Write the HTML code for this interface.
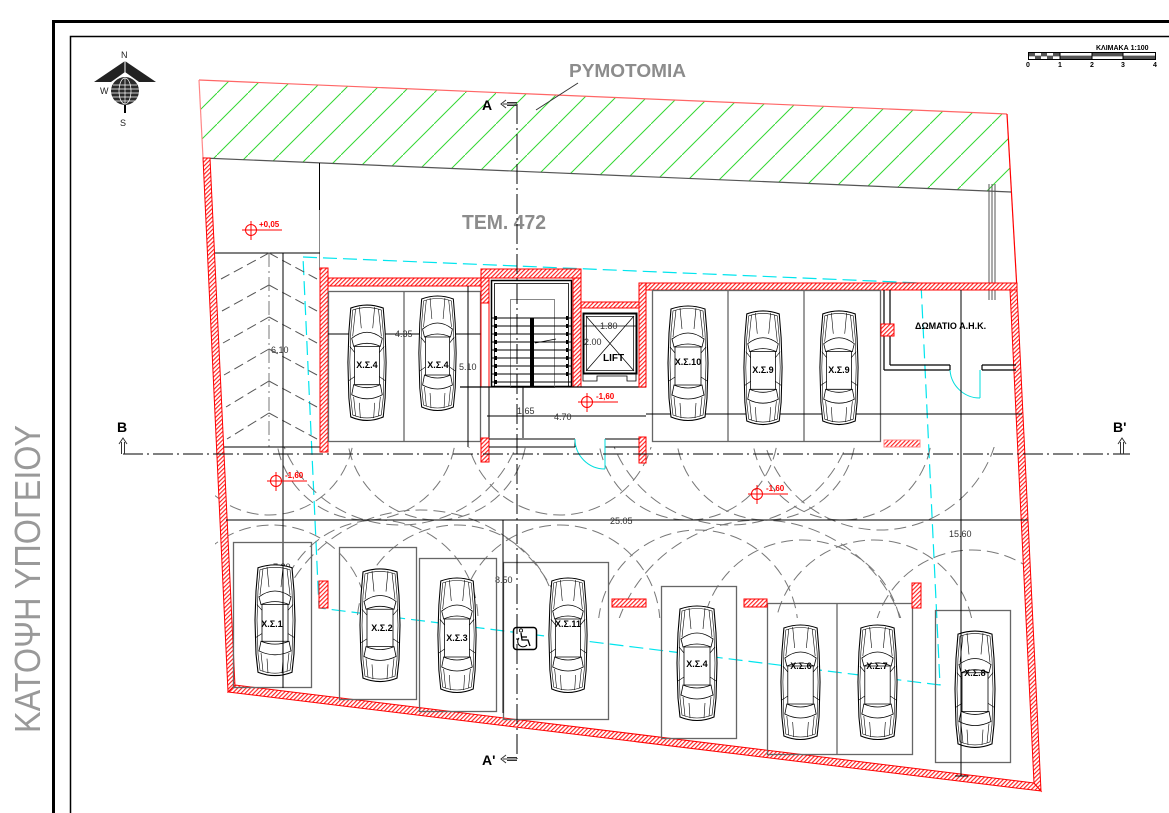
<!DOCTYPE html>
<html><head><meta charset="utf-8"><style>
html,body{margin:0;padding:0;background:#fff;overflow:hidden}
svg{display:block}
</style></head><body>
<svg width="1169" height="813" viewBox="0 0 1169 813" xmlns="http://www.w3.org/2000/svg" font-family="'Liberation Sans', Arial, sans-serif">
<defs>
<pattern id="h" patternUnits="userSpaceOnUse" width="3" height="3" patternTransform="rotate(45)"><rect width="3" height="3" fill="#fff"/><line x1="0.5" y1="0" x2="0.5" y2="3" stroke="#f22" stroke-width="1.3"/></pattern>
<pattern id="g" patternUnits="userSpaceOnUse" width="31" height="31"><line x1="-1" y1="32" x2="32" y2="-1" stroke="#33d633" stroke-width="1"/></pattern>
<symbol id="car" viewBox="0 0 44 120" preserveAspectRatio="none">
<path d="M5,6 Q22,0 39,6 L41,30 L42,60 L41,95 L39,114 Q22,121 5,114 L3,95 L2,60 L3,30 Z" fill="#fff" stroke="#000" stroke-width="1.1"/>
<path d="M7,8 Q22,3 37,8 L39,30 L40,60 L39,95 L37,112 Q22,118 7,112 L5,95 L4,60 L5,30 Z" fill="none" stroke="#000" stroke-width=".6"/>
<path d="M6,36 Q22,24 38,36 L36,44 Q22,38 8,44 Z" fill="none" stroke="#000" stroke-width=".8"/>
<path d="M9,44 L35,44 L35,82 L9,82 Z" fill="none" stroke="#000" stroke-width=".8"/>
<path d="M8,82 Q22,88 36,82 L38,92 Q22,100 6,92 Z" fill="none" stroke="#000" stroke-width=".8"/>
<path d="M10,7 L7,34 M34,7 L37,34 M14,5 L16,26 M30,5 L28,26 M8,94 L10,113 M36,94 L34,113 M14,100 L15,115 M30,100 L29,115 M4,44 L9,50 M40,44 L35,50 M3,78 L9,74 M41,78 L35,74" stroke="#000" stroke-width=".6" fill="none"/>
</symbol>
<clipPath id="ctop"><rect x="215" y="447" width="810" height="125"/></clipPath>
<clipPath id="cbot"><rect x="215" y="458" width="810" height="160"/></clipPath>
</defs>

<!-- vertical title -->
<text transform="translate(40,733) rotate(-90)" font-size="36" fill="#999" textLength="308" lengthAdjust="spacingAndGlyphs">ΚΑΤΟΨΗ ΥΠΟΓΕΙΟΥ</text>

<!-- frames -->
<path d="M53.5,813 L53.5,21.5 L1169,21.5" fill="none" stroke="#000" stroke-width="3"/>
<path d="M70.5,813 L70.5,36.5 L1169,36.5" fill="none" stroke="#000" stroke-width="1.5"/>

<!-- compass -->
<text x="121" y="58" font-size="9" fill="#222">N</text>
<polygon points="94,82 125,61 156,82 139,82 125,72 111,82" fill="#222"/>
<line x1="125" y1="61" x2="125" y2="78" stroke="#fff" stroke-width="1"/>
<circle cx="125" cy="91" r="14" fill="#2a2a2a"/>
<g stroke="#fff" stroke-width=".7" fill="none">
<path d="M113,85 L137,85 M111,89 L139,89 M111,93 L139,93 M112,97 L138,97 M115,101 L135,101"/>
<ellipse cx="125" cy="91" rx="6" ry="13"/><line x1="125" y1="78" x2="125" y2="104"/>
</g>
<text x="100" y="94" font-size="9" fill="#222">W</text>
<line x1="125" y1="105" x2="125" y2="113" stroke="#000" stroke-width="2"/>
<text x="120" y="126" font-size="9" fill="#222">S</text>

<!-- scale bar -->
<text x="1096" y="50" font-size="7" font-weight="bold" fill="#000">ΚΛΙΜΑΚΑ 1:100</text>
<rect x="1028.5" y="52.5" width="127" height="7" fill="#fff" stroke="#000" stroke-width="1"/>
<line x1="1028" y1="56" x2="1156" y2="56" stroke="#000" stroke-width=".6"/>
<g fill="#555">
<rect x="1029" y="53" width="6" height="3"/><rect x="1041" y="53" width="6" height="3"/><rect x="1053" y="53" width="7" height="3"/>
<rect x="1035" y="56" width="6" height="3"/><rect x="1047" y="56" width="6" height="3"/><rect x="1060" y="56" width="32" height="3"/>
<rect x="1092" y="53" width="31" height="3"/><rect x="1123" y="56" width="32" height="3"/>
</g>
<g stroke="#000" stroke-width="1"><line x1="1060" y1="52" x2="1060" y2="60"/><line x1="1092" y1="52" x2="1092" y2="60"/><line x1="1123" y1="52" x2="1123" y2="60"/></g>
<g font-size="7" font-weight="bold"><text x="1026" y="67">0</text><text x="1058" y="67">1</text><text x="1090" y="67">2</text><text x="1121" y="67">3</text><text x="1153" y="67">4</text></g>

<!-- street band -->
<polygon points="199,80 1007,114 1011,192 203,158" fill="url(#g)"/>
<line x1="199" y1="80" x2="1007" y2="114" stroke="#f66" stroke-width="1.2"/>
<line x1="199" y1="80" x2="203" y2="158" stroke="#f88" stroke-width="1.2"/>
<line x1="1007" y1="114" x2="1017" y2="290" stroke="#f00" stroke-width="1.2"/>
<line x1="203" y1="158" x2="1011" y2="192" stroke="#555" stroke-width="1.2"/>
<text x="569" y="77" font-size="18" font-weight="bold" fill="#8c8c8c" textLength="117" lengthAdjust="spacingAndGlyphs">ΡΥΜΟΤΟΜΙΑ</text>
<line x1="578" y1="83" x2="536" y2="110" stroke="#333" stroke-width="1"/>
<text x="462" y="229" font-size="20" font-weight="bold" fill="#8c8c8c" textLength="84" lengthAdjust="spacingAndGlyphs">ΤΕΜ. 472</text>

<!-- downpipe lines -->
<g stroke="#555" stroke-width="1"><line x1="989" y1="184" x2="989" y2="300"/><line x1="992" y1="184" x2="992" y2="300"/><line x1="995" y1="184" x2="995" y2="300"/></g>

<!-- interior top lines -->
<line x1="319.5" y1="163" x2="319.5" y2="210" stroke="#000" stroke-width="1"/>
<line x1="319.5" y1="210" x2="319.5" y2="270" stroke="#888" stroke-width="1"/>
<line x1="211" y1="253" x2="320" y2="253" stroke="#000" stroke-width="1"/>

<!-- cyan dashed -->
<polyline points="303,257 921,283 940,685 319,608 303,257" fill="none" stroke="#00e5ee" stroke-width="1.2" stroke-dasharray="14 6"/>

<!-- turning arcs -->
<g fill="none" stroke="#777" stroke-width="1" stroke-dasharray="12 6" clip-path="url(#ctop)">
<circle cx="269" cy="430" r="85"/><circle cx="366" cy="430" r="90"/><circle cx="437" cy="430" r="90"/>
<circle cx="688" cy="430" r="90"/><circle cx="766" cy="430" r="90"/><circle cx="842" cy="430" r="90"/>
<circle cx="560" cy="420" r="95"/>
<circle cx="400" cy="400" r="125"/><circle cx="730" cy="400" r="125"/><circle cx="880" cy="410" r="120"/>
</g>
<g fill="none" stroke="#777" stroke-width="1" stroke-dasharray="12 6" clip-path="url(#cbot)">
<circle cx="272" cy="620" r="95"/><circle cx="378" cy="620" r="100"/><circle cx="457" cy="625" r="100"/>
<circle cx="560" cy="625" r="100"/><circle cx="698" cy="630" r="100"/><circle cx="802" cy="640" r="100"/>
<circle cx="874" cy="640" r="100"/><circle cx="972" cy="650" r="100"/>
<circle cx="420" cy="660" r="150"/><circle cx="760" cy="670" r="150"/>
</g>

<!-- ramp chevrons -->
<g stroke="#555" stroke-width="1" fill="none" stroke-dasharray="10 5">
<path d="M269,253 L221,279 M269,253 L317,279 M269,285 L222,311 M269,285 L317,311 M269,317 L223,343 M269,317 L317,343 M269,349 L224,375 M269,349 L317,375 M269,381 L226,407 M269,381 L317,407 M269,413 L227,439 M269,413 L317,439"/>
</g>
<line x1="269" y1="253" x2="269" y2="447" stroke="#777" stroke-width="1" stroke-dasharray="14 4 2 4"/>
<line x1="222" y1="447" x2="328" y2="447" stroke="#000" stroke-width="1"/>
<line x1="283" y1="253" x2="283" y2="688" stroke="#000" stroke-width="1"/>
<text x="271" y="353" font-size="9" fill="#333">6.10</text>

<!-- lot walls -->
<polygon points="203,158 210,158 235,686 228,692" fill="url(#h)" stroke="#f00" stroke-width="1"/>
<polygon points="228,692 235,685 1034,783 1041,791" fill="url(#h)" stroke="#f00" stroke-width="1"/>
<polygon points="1010,290 1017,290 1041,791 1034,783" fill="url(#h)" stroke="#f00" stroke-width="1"/>

<!-- left garage block -->
<rect x="328" y="278" width="153" height="8" fill="url(#h)" stroke="#f00" stroke-width="1"/>
<rect x="320" y="268" width="8" height="184" fill="url(#h)" stroke="#f00" stroke-width="1"/>
<rect x="328.5" y="291.5" width="152" height="150" fill="none" stroke="#666" stroke-width="1.3"/>
<line x1="404" y1="291" x2="404" y2="442" stroke="#666" stroke-width="1.3"/>
<line x1="328" y1="334" x2="481" y2="334" stroke="#000" stroke-width="1"/>
<text x="395" y="337" font-size="9" fill="#333">4.35</text>
<line x1="468" y1="286" x2="468" y2="447" stroke="#000" stroke-width="1"/>
<text x="459" y="370" font-size="9" fill="#333">5.10</text>

<!-- stair -->
<rect x="481" y="269" width="100" height="9" fill="url(#h)" stroke="#f00" stroke-width="1"/>
<rect x="481" y="278" width="8" height="25" fill="url(#h)" stroke="#f00" stroke-width="1"/>
<rect x="481" y="303" width="8" height="84" fill="#fff" stroke="#f00" stroke-width="1"/>
<rect x="573" y="278" width="8" height="109" fill="url(#h)" stroke="#f00" stroke-width="1"/>
<rect x="491.5" y="280.5" width="80" height="106" fill="none" stroke="#000" stroke-width="1.5"/>
<rect x="494.5" y="283.5" width="74" height="103" fill="none" stroke="#000" stroke-width=".8"/>
<rect x="510.5" y="299.5" width="44" height="88" fill="none" stroke="#888" stroke-width="1"/>
<g stroke="#000" stroke-width="1">
<line x1="492" y1="318" x2="571" y2="318"/><line x1="492" y1="326" x2="571" y2="326"/><line x1="492" y1="334" x2="571" y2="334"/>
<line x1="492" y1="342" x2="571" y2="342"/><line x1="492" y1="350" x2="571" y2="350"/><line x1="492" y1="358" x2="571" y2="358"/>
<line x1="492" y1="366" x2="571" y2="366"/><line x1="492" y1="374" x2="571" y2="374"/><line x1="492" y1="382" x2="571" y2="382"/>
</g>
<g fill="#000">
<rect x="494" y="316" width="3" height="4"/><rect x="494" y="324" width="3" height="4"/><rect x="494" y="332" width="3" height="4"/><rect x="494" y="340" width="3" height="4"/><rect x="494" y="348" width="3" height="4"/><rect x="494" y="356" width="3" height="4"/><rect x="494" y="364" width="3" height="4"/><rect x="494" y="372" width="3" height="4"/><rect x="494" y="380" width="3" height="4"/>
<rect x="566" y="316" width="2" height="4"/><rect x="566" y="324" width="2" height="4"/><rect x="566" y="332" width="2" height="4"/><rect x="566" y="340" width="2" height="4"/><rect x="566" y="348" width="2" height="4"/><rect x="566" y="356" width="2" height="4"/><rect x="566" y="364" width="2" height="4"/><rect x="566" y="372" width="2" height="4"/>
</g>
<rect x="530" y="318" width="4" height="69" fill="#000"/>
<line x1="535" y1="343" x2="556" y2="339" stroke="#000" stroke-width=".8"/>
<line x1="460" y1="387" x2="646" y2="387" stroke="#000" stroke-width="1.2"/>
<line x1="489" y1="387" x2="489" y2="438" stroke="#000" stroke-width="1"/>
<!-- lift -->
<rect x="581" y="302" width="58" height="6" fill="url(#h)" stroke="#f00" stroke-width="1"/>
<rect x="583.5" y="313.5" width="53" height="60" fill="none" stroke="#000" stroke-width="2"/>
<rect x="586.5" y="316.5" width="47" height="54" fill="none" stroke="#000" stroke-width=".7"/>
<line x1="586" y1="316" x2="634" y2="371" stroke="#000" stroke-width=".7"/>
<line x1="634" y1="316" x2="586" y2="371" stroke="#000" stroke-width=".7"/>
<line x1="583" y1="326" x2="637" y2="326" stroke="#000" stroke-width=".7"/>
<text x="600" y="329" font-size="9" fill="#333">1.80</text>
<text x="584" y="345" font-size="9" fill="#333">2.00</text>
<text x="603" y="361" font-size="10" font-weight="bold" fill="#000">LIFT</text>
<path d="M583,374 L583,381 L597,381 L597,376 L627,376 L627,381 L636,381 L636,374" fill="none" stroke="#000" stroke-width=".8"/>
<!-- stair lower -->
<rect x="481" y="438" width="8" height="24" fill="url(#h)" stroke="#f00" stroke-width="1"/>
<rect x="639" y="437" width="7" height="26" fill="url(#h)" stroke="#f00" stroke-width="1"/>
<g stroke="#000" stroke-width="1">
<line x1="489" y1="439" x2="575" y2="439"/><line x1="489" y1="447" x2="575" y2="447"/>
<line x1="605" y1="439" x2="639" y2="439"/><line x1="605" y1="447" x2="639" y2="447"/>
<line x1="575" y1="439" x2="575" y2="447"/>
</g>
<path d="M575,439 A30,30 0 0 0 605,469" fill="none" stroke="#0dd" stroke-width="1"/>
<line x1="605" y1="439" x2="605" y2="469" stroke="#0dd" stroke-width="1"/>
<line x1="487" y1="416" x2="646" y2="416" stroke="#000" stroke-width="1"/>
<line x1="523" y1="387" x2="523" y2="438" stroke="#000" stroke-width="1"/>
<text x="517" y="414" font-size="9" fill="#333">1.65</text>
<text x="554" y="420" font-size="9" fill="#333">4.70</text>

<!-- right block -->
<rect x="639" y="283" width="378" height="7" fill="url(#h)" stroke="#f00" stroke-width="1"/>
<rect x="639" y="283" width="7" height="104" fill="url(#h)" stroke="#f00" stroke-width="1"/>
<rect x="652.5" y="290.5" width="228" height="151" fill="none" stroke="#666" stroke-width="1.3"/>
<line x1="728" y1="290" x2="728" y2="442" stroke="#666" stroke-width="1.3"/>
<line x1="804" y1="290" x2="804" y2="442" stroke="#666" stroke-width="1.3"/>
<line x1="646" y1="414" x2="1022" y2="414" stroke="#000" stroke-width="1"/>
<text x="822" y="418" font-size="9" fill="#333">2.05</text>
<!-- room -->
<g stroke="#000" stroke-width="1.2" fill="none">
<line x1="884" y1="290" x2="884" y2="370"/><line x1="890" y1="290" x2="890" y2="365"/>
<line x1="884" y1="370" x2="950" y2="370"/><line x1="890" y1="365" x2="950" y2="365"/>
<line x1="950" y1="365" x2="950" y2="370"/>
<line x1="982" y1="365" x2="1016" y2="365"/><line x1="982" y1="370" x2="1016" y2="370"/><line x1="982" y1="365" x2="982" y2="370"/>
</g>
<path d="M950,370 A30,30 0 0 0 980,398" fill="none" stroke="#0dd" stroke-width="1"/>
<line x1="980" y1="370" x2="980" y2="398" stroke="#0dd" stroke-width="1"/>
<rect x="881" y="324" width="13" height="12" fill="url(#h)" stroke="#f00" stroke-width="1"/>
<text x="915" y="329" font-size="9" font-weight="bold" fill="#000">ΔΩΜΑΤΙΟ Α.Η.Κ.</text>
<line x1="961" y1="290" x2="961" y2="776" stroke="#000" stroke-width="1"/>
<line x1="955" y1="776" x2="968" y2="776" stroke="#000" stroke-width="1"/>
<text x="949" y="537" font-size="9" fill="#333">15.60</text>
<rect x="884" y="440" width="36" height="7" fill="url(#h)" stroke="#f88" stroke-width="1"/>

<!-- 25.05 dim -->
<line x1="226" y1="520" x2="1028" y2="520" stroke="#000" stroke-width="1"/>
<text x="610" y="524" font-size="9" fill="#333">25.05</text>
<line x1="503" y1="520" x2="503" y2="713" stroke="#000" stroke-width="1"/>
<text x="495" y="583" font-size="9" fill="#333">8.50</text>
<text x="273" y="570" font-size="9" fill="#333">7.80</text>

<!-- bottom row boxes -->
<g fill="none" stroke="#666" stroke-width="1.3">
<rect x="233.5" y="542.5" width="78" height="145"/>
<rect x="339.5" y="547.5" width="77" height="152"/>
<rect x="419.5" y="558.5" width="77" height="153"/>
<rect x="503.5" y="562.5" width="105" height="157"/>
<rect x="661.5" y="586.5" width="75" height="152"/>
<rect x="767.5" y="603.5" width="145" height="151"/>
<line x1="837" y1="603" x2="837" y2="754"/>
<rect x="935.5" y="610.5" width="75" height="152"/>
</g>
<g fill="url(#h)" stroke="#f00" stroke-width="1">
<rect x="319" y="581" width="9" height="27"/>
<rect x="612" y="599" width="34" height="8"/>
<rect x="744" y="599" width="23" height="8"/>
<rect x="912" y="583" width="9" height="25"/>
</g>

<!-- cars -->
<use href="#car" x="346" y="302" width="42" height="121"/>
<use href="#car" x="417" y="293" width="41" height="120"/>
<use href="#car" x="666" y="303" width="44" height="120"/>
<use href="#car" x="742" y="308" width="42" height="119"/>
<use href="#car" x="818" y="308" width="42" height="119"/>
<use href="#car" x="253" y="562" width="44" height="116"/>
<use href="#car" x="358" y="566" width="44" height="118"/>
<use href="#car" x="436" y="575" width="42" height="120"/>
<use href="#car" x="547" y="575" width="42" height="120"/>
<use href="#car" x="675" y="603" width="44" height="120"/>
<use href="#car" x="779" y="622" width="43" height="120"/>
<use href="#car" x="856" y="622" width="43" height="120"/>
<use href="#car" x="953" y="628" width="44" height="122"/>
<line x1="283" y1="560" x2="283" y2="688" stroke="#000" stroke-width="1"/>
<line x1="961" y1="600" x2="961" y2="776" stroke="#000" stroke-width="1"/>
<line x1="503" y1="560" x2="503" y2="713" stroke="#000" stroke-width="1"/>

<g font-size="9" font-weight="bold" fill="#000" text-anchor="middle">
<text x="367" y="368">Χ.Σ.4</text><text x="438" y="368">Χ.Σ.4</text>
<text x="688" y="365">Χ.Σ.10</text><text x="763" y="373">Χ.Σ.9</text><text x="839" y="373">Χ.Σ.9</text>
<text x="272" y="627">Χ.Σ.1</text><text x="382" y="631">Χ.Σ.2</text><text x="457" y="641">Χ.Σ.3</text>
<text x="568" y="627">Χ.Σ.11</text><text x="697" y="667">Χ.Σ.4</text><text x="801" y="669">Χ.Σ.6</text>
<text x="877" y="669">Χ.Σ.7</text><text x="975" y="676">Χ.Σ.8</text>
</g>

<!-- wheelchair -->
<rect x="513.5" y="627.5" width="23" height="22" rx="3" fill="#fff" stroke="#000" stroke-width="1.5"/>
<circle cx="521" cy="630.5" r="1.6" fill="none" stroke="#000" stroke-width=".8"/>
<path d="M521,633 L522,640 L528,640 L530,646 M522,637 L527,637" fill="none" stroke="#000" stroke-width="1.3"/>
<path d="M519,638 A5,5 0 1 0 527,645" fill="none" stroke="#000" stroke-width="1"/>

<!-- section lines -->
<line x1="517" y1="104" x2="517" y2="759" stroke="#000" stroke-width="1" stroke-dasharray="20 4 2 4"/>
<line x1="123" y1="454" x2="1130" y2="454" stroke="#000" stroke-width="1" stroke-dasharray="20 4 2 4"/>
<g fill="none" stroke="#333" stroke-width="1">
<path d="M517,104 L503,104 M507,102.5 L517,102.5 M507,105.5 L517,105.5 M506,100 L501,104 L506,108"/>
<path d="M517,759 L503,759 M507,757.5 L517,757.5 M507,760.5 L517,760.5 M506,755 L501,759 L506,763"/>
<path d="M121.5,454 L121.5,442 M124.5,454 L124.5,442 M119,444 L123,438 L127,444"/>
<path d="M1120.5,454 L1120.5,442 M1123.5,454 L1123.5,442 M1118,444 L1122,438 L1126,444"/>
</g>
<g font-size="14" font-weight="bold" fill="#000">
<text x="482" y="110">A</text><text x="482" y="765">A'</text>
<text x="117" y="432">B</text><text x="1113" y="432">B'</text>
</g>

<!-- elevation markers -->
<g stroke="#f00" stroke-width="1" fill="none">
<circle cx="251" cy="230" r="5.5"/><line x1="242" y1="230" x2="282" y2="230"/><line x1="251" y1="221" x2="251" y2="240"/>
<circle cx="587" cy="402" r="5.5"/><line x1="578" y1="402" x2="618" y2="402"/><line x1="587" y1="393" x2="587" y2="412"/>
<circle cx="276" cy="481" r="5.5"/><line x1="267" y1="481" x2="307" y2="481"/><line x1="276" y1="472" x2="276" y2="491"/>
<circle cx="757" cy="494" r="5.5"/><line x1="748" y1="494" x2="788" y2="494"/><line x1="757" y1="485" x2="757" y2="504"/>
</g>
<g font-size="8" font-weight="bold" fill="#f00">
<text x="259" y="227">+0,05</text><text x="596" y="399">-1,60</text>
<text x="285" y="478">-1,60</text><text x="766" y="491">-1,60</text>
</g>
</svg>
</body></html>
